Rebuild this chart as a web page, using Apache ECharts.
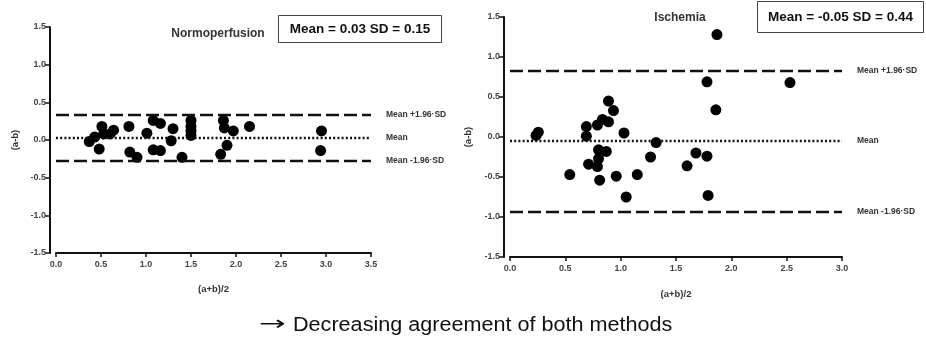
<!DOCTYPE html>
<html><head><meta charset="utf-8">
<script src="https://cdn.jsdelivr.net/npm/echarts@6/dist/echarts.min.js"></script>
<style>html,body{margin:0;padding:0;background:#fff}#c{width:926px;height:337px}</style>
</head><body><div id="c"></div>
<script>
// Normoperfusion
const normX = [0.37,0.43,0.48,0.51,0.53,0.60,0.64,0.81,0.82,0.90,1.01,1.08,1.16,1.08,1.16,1.30,1.28,1.40,1.50,1.50,1.50,1.50,1.86,1.87,1.97,1.90,1.83,2.15,2.95,2.94];
const normY = [-0.02,0.04,-0.12,0.18,0.08,0.08,0.13,0.18,-0.16,-0.23,0.09,0.26,0.22,-0.13,-0.14,0.15,-0.01,-0.23,0.26,0.18,0.12,0.06,0.26,0.16,0.12,-0.07,-0.19,0.18,0.12,-0.14];
const normStats = {mean:0.03, upper:0.33, lower:-0.28, sdText:'Mean = 0.03 SD = 0.15'};
// Ischemia
const ischX = [0.235,0.256,0.54,0.69,0.69,0.71,0.79,0.835,0.89,0.89,0.935,1.03,0.80,0.87,0.80,0.79,0.81,0.96,1.15,1.05,1.27,1.32,1.60,1.68,1.78,1.79,1.78,1.86,1.87,2.53];
const ischY = [0.02,0.06,-0.47,0.13,0.01,-0.34,0.15,0.22,0.19,0.45,0.33,0.05,-0.16,-0.18,-0.27,-0.37,-0.54,-0.49,-0.47,-0.75,-0.25,-0.07,-0.36,-0.20,-0.24,-0.73,0.69,0.34,1.28,0.68];
const ischStats = {mean:-0.05, upper:0.83, lower:-0.93, sdText:'Mean = -0.05 SD = 0.44'};
const lineLabels = ['Mean +1.96·SD','Mean','Mean -1.96·SD'];
const caption = 'Decreasing agreement of both methods';

const FONT = '"Liberation Sans", Arial, sans-serif';
const chart = echarts.init(document.getElementById('c'), null, {renderer:'canvas'});

function zip(a,b){return a.map((v,i)=>[v,b[i]]);}
function xAxis(idx,max,gap){
  return {type:'value',gridIndex:idx,min:0,max:max,interval:0.5,
    name:'(a+b)/2',nameLocation:'middle',nameGap:gap,
    nameTextStyle:{fontFamily:FONT,fontWeight:'bold',fontSize:9.5,color:'#333'},
    axisLine:{show:true,onZero:false,lineStyle:{color:'#111',width:2}},
    axisTick:{show:true,length:4,lineStyle:{color:'#111',width:1.5}},
    axisLabel:{fontFamily:FONT,fontWeight:'bold',fontSize:9,color:'#444',margin:7,formatter:v=>v.toFixed(1)},
    splitLine:{show:false}};
}
function yAxis(idx,gap,off){
  return {type:'value',gridIndex:idx,min:-1.5,max:1.5,interval:0.5,offset:off,
    name:'(a-b)',nameLocation:'middle',nameGap:gap,nameRotate:90,
    nameTextStyle:{fontFamily:FONT,fontWeight:'bold',fontSize:9.5,color:'#333'},
    axisLine:{show:true,onZero:false,lineStyle:{color:'#111',width:2}},
    axisTick:{show:true,length:5,lineStyle:{color:'#111',width:1.5}},
    axisLabel:{fontFamily:FONT,fontWeight:'bold',fontSize:9,color:'#444',margin:4,formatter:v=>v.toFixed(1)},
    splitLine:{show:false}};
}
function refLines(st){
  const mk=(v,type,label)=>({yAxis:v,lineStyle:{type:type,color:'#111',width:type==='dotted'?2:2.3},
    label:{show:true,position:'end',distance:15,formatter:label,fontFamily:FONT,fontWeight:'bold',fontSize:8.5,color:'#333'}});
  return {silent:true,symbol:['none','none'],animation:false,
    data:[mk(st.upper,[13,5],lineLabels[0]),mk(st.mean,[2,2.2],lineLabels[1]),mk(st.lower,[13,5],lineLabels[2])]};
}
function series(idx,xs,ys,st){
  return {type:'scatter',xAxisIndex:idx,yAxisIndex:idx,data:zip(xs,ys),symbolSize:11,
    itemStyle:{color:'#000',opacity:1},markLine:refLines(st),animation:false};
}
function box(x,y,w,h,text,fs){
  return {type:'group',left:x,top:y,children:[
    {type:'rect',shape:{x:0,y:0,width:w,height:h},style:{fill:'#fff',stroke:'#444',lineWidth:1}},
    {type:'text',style:{x:w/2,y:h/2,text:text,textAlign:'center',textVerticalAlign:'middle',font:'bold '+fs+'px '+FONT,fill:'#111'}}
  ]};
}
chart.setOption({
  animation:false,
  grid:[{left:56,top:27,width:315,height:226},{left:510,top:17,width:332,height:240}],
  xAxis:[xAxis(0,3.5,31),xAxis(1,3.0,32)],
  yAxis:[yAxis(0,30,6),yAxis(1,31,6)],
  series:[series(0,normX,normY,normStats),series(1,ischX,ischY,ischStats)],
  title:[
    {text:'Normoperfusion',left:213,top:23,textAlign:'center',textStyle:{fontFamily:FONT,fontWeight:'bold',fontSize:12,color:'#333'}},
    {text:'Ischemia',left:675,top:7,textAlign:'center',textStyle:{fontFamily:FONT,fontWeight:'bold',fontSize:12,color:'#333'}}
  ],
  graphic:[
    box(278,15,163,27,normStats.sdText,13.5),
    box(757,1,166,31,ischStats.sdText,13.5),
    {type:'text',x:259,y:325,scaleX:1.6,style:{text:'→',font:'20px "DejaVu Sans", sans-serif',fill:'#111',textVerticalAlign:'middle'}},
    {type:'text',x:293,y:325,scaleX:1.08,style:{text:caption,font:'20px '+FONT,fill:'#111',textVerticalAlign:'middle'}}
  ]
});
</script></body></html>
